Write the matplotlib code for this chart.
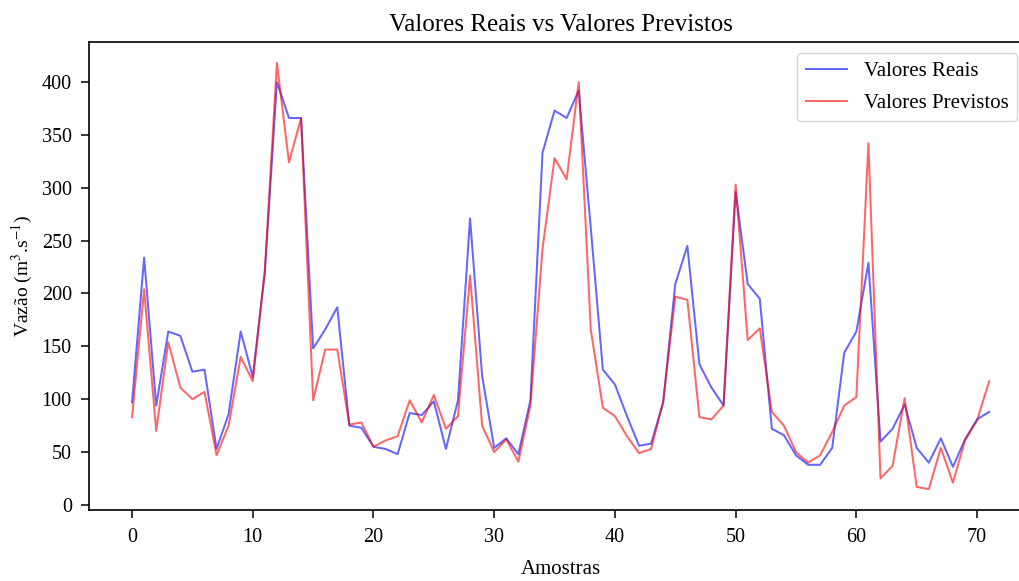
import matplotlib
matplotlib.use("Agg")
import matplotlib.pyplot as plt
import numpy as np

plt.rcParams['font.family'] = ['Liberation Serif', 'DejaVu Serif']
plt.rcParams['mathtext.fontset'] = 'stix'

amostras = np.arange(72)

valores_reais = [
    97, 234, 94, 164, 160, 126, 128, 53, 86, 164,
    121, 220, 400, 366, 366, 148, 166, 187, 75, 73,
    55, 53, 48, 87, 85, 98, 53, 99, 271, 122,
    54, 63, 48, 99, 333, 373, 366, 392, 262, 128,
    114, 84, 56, 58, 97, 209, 245, 133, 111, 94,
    296, 209, 195, 72, 66, 47, 38, 38, 54, 144,
    164, 229, 60, 72, 95, 54, 40, 63, 36, 62,
    81, 88,
]

valores_previstos = [
    83, 204, 70, 154, 111, 100, 107, 47, 75, 140,
    117, 222, 418, 324, 366, 99, 147, 147, 76, 78,
    55, 61, 65, 99, 78, 104, 72, 84, 217, 75,
    50, 62, 41, 94, 242, 328, 308, 400, 166, 92,
    84, 65, 49, 53, 98, 197, 194, 83, 81, 94,
    303, 156, 167, 88, 75, 50, 40, 47, 69, 94,
    102, 342, 25, 37, 101, 17, 15, 54, 21, 61,
    80, 117,
]

W, H = 1020, 581
fig = plt.figure(figsize=(W / 100, H / 100), dpi=100, facecolor='white')
# plot area deliberately runs slightly past the right edge of the canvas
left, right, top, bottom = 89.2, 1032, 41.7, 510.4
ax = fig.add_axes([left / W, (H - bottom) / H, (right - left) / W, (bottom - top) / H])
ax.patch.set_visible(False)

ax.plot(amostras, valores_reais, color='blue', alpha=0.6, lw=1.45, label='Valores Reais')
ax.plot(amostras, valores_previstos, color='red', alpha=0.6, lw=1.45, label='Valores Previstos')

ax.set_title('Valores Reais vs Valores Previstos', fontsize=18, pad=8)
ax.set_xlabel('Amostras', fontsize=15, labelpad=9)
ax.set_ylabel(r'Vazão (m$^3$.s$^{-1}$)', fontsize=14, labelpad=5)
ax.set_xticks(np.arange(0, 71, 10))
ax.set_yticks(np.arange(0, 401, 50))
ax.tick_params(labelsize=14.5, length=5.5, width=1.1)
ax.tick_params(axis='x', pad=7.5)
ax.tick_params(axis='y', pad=7)
for side in ('left', 'bottom', 'top'):
    ax.spines[side].set_linewidth(1.2)
ax.spines['right'].set_visible(False)

ax.legend(loc='upper right', bbox_to_anchor=(1017 / W, 1 - 53 / H),
          bbox_transform=fig.transFigure, borderaxespad=0, fontsize=15,
          labelspacing=0.6)

fig.savefig('out.png', dpi=100)
